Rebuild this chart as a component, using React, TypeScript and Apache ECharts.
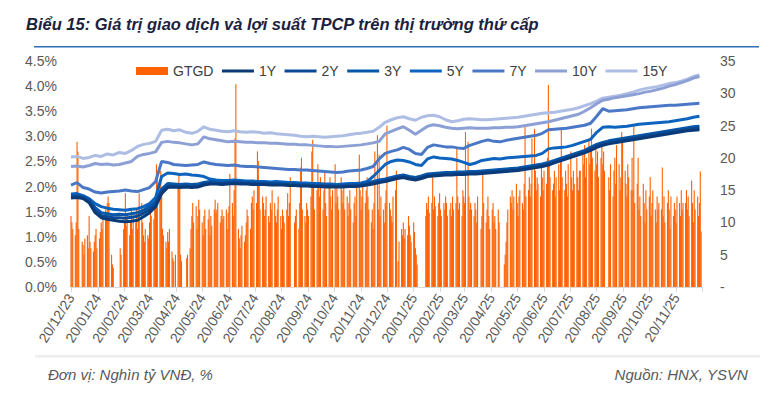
import React, { useEffect, useRef } from "react";
import * as echarts from "echarts";

// ---- Trading value GTGD (nghìn tỷ VNĐ), one row per month, one value per trading day ----
const gtgdMonths = [
  "2023-12", "2024-01", "2024-02", "2024-03", "2024-04", "2024-05", "2024-06", "2024-07",
  "2024-08", "2024-09", "2024-10", "2024-11", "2024-12", "2025-01", "2025-02", "2025-03",
  "2025-04", "2025-05", "2025-06", "2025-07", "2025-08", "2025-09", "2025-10", "2025-11", "2025-12",
];
const gtgdByMonth: number[][] = [
  [11, 10, 9, 8, 10, 22.5, 21, 9],
  [7, 6.5, 5, 7.5, 8, 6, 11, 7, 6, 5.5, 7, 8, 9, 6, 7.5, 8.5, 10, 9, 11, 12, 10.5, 13],
  [14, 13, 5, 3.5, 3, 6, 5, 9, 10, 14.5, 9.5, 11, 8, 10, 12, 9],
  [11, 10, 12, 9, 11, 14.5, 13, 10, 8, 7, 9, 8, 7.5, 10, 12, 11, 10.5, 12, 13, 19, 17],
  [16, 18, 14.5, 9, 8, 7, 6, 8.5, 7, 9, 5.5, 4.5, 4, 5, 15.5, 17.5, 16, 5, 4],
  [4.5, 5, 6, 9, 11, 13, 10, 12.5, 9, 11, 13.5, 12, 10, 8, 11, 12, 9, 10.5, 12, 8, 11, 9.5],
  [12, 13.5, 11.5, 12, 13, 10, 11, 12, 10.5, 11, 12, 9, 11.5, 12.5, 17.5, 13, 11, 15, 23, 31.4],
  [9, 7.5, 6, 8, 9.5, 7, 8, 10, 12, 11, 9, 13, 14, 12, 15, 13, 21, 19.5, 16, 12, 14, 13, 11],
  [12, 14, 11, 10, 13, 12, 15, 13, 11, 10, 12, 14, 11, 9, 12, 11, 10, 12, 14.5, 11, 13, 17],
  [10, 11, 12, 9, 13, 18.5, 20, 12, 11, 10, 13, 12, 11, 14, 21, 22.8, 16, 12, 15],
  [19, 16, 14, 17, 12, 15, 18, 13, 11, 16, 17, 14, 12, 15, 19, 13, 16, 14, 12, 17, 15, 13, 16],
  [12, 14, 11, 13, 15, 12, 10, 13, 14, 11, 16, 20.5, 15, 12, 14, 16, 13, 15, 17, 14, 12],
  [10, 12, 9, 13, 21, 23.5, 12, 20.5, 11, 14, 12, 10, 13, 15, 25, 13, 12, 11, 10, 14, 15, 18],
  [4, 7, 9, 8, 10, 7.5, 9, 8, 11, 9.5, 8, 7, 10, 8.5, 6, 5, 3.5],
  [11, 13, 12, 14, 11.5, 13, 17, 12, 14, 12.5, 11, 13, 14.5, 12, 11, 13, 12, 14, 13, 11],
  [12, 13, 11, 14, 12, 13, 21.5, 14, 12, 13, 11, 15, 14, 13, 24, 22.5, 14, 12, 13, 12, 11],
  [13, 12, 10, 14, 9, 11, 18, 13, 10, 12, 14, 11, 9, 12, 13, 10, 11, 9, 12, 10],
  [3.5, 5, 7, 10, 12, 14, 13, 15, 12, 14, 16, 13, 11, 14, 15, 13, 12, 16, 24.8, 14],
  [15, 17, 14, 16, 23, 24.5, 18, 15, 17, 16, 14, 19, 17, 15, 18, 16, 20, 31.3, 19, 17, 15],
  [16, 18, 14, 17, 19, 15, 20, 24.5, 17, 15, 18, 16, 14, 19, 21, 17, 15, 18, 16, 20, 17, 15, 18],
  [18, 21, 19, 22, 17, 20, 23, 19, 21, 24.5, 20, 18, 22, 19, 21, 17, 20, 22, 19, 21, 18],
  [17, 15, 19, 14, 18, 20, 16, 22, 19, 15, 17, 24, 23, 18, 16, 14, 19, 17, 15, 20],
  [15, 25, 13, 16, 20, 12, 14, 11, 16, 13, 10, 15, 12, 14, 17, 11, 13, 15, 12, 10, 14, 12, 13],
  [12, 18.5, 11, 14, 10, 13, 15, 12, 9, 14, 11, 13, 12, 10, 14, 13, 11, 15, 12, 13],
  [13, 15, 12, 14, 11, 16.5, 13, 10, 15, 12, 14, 11, 13, 17.9, 8.6],
];
const holidays = [
  "2024-01-01", "2024-02-08", "2024-02-09", "2024-02-12", "2024-02-13", "2024-02-14",
  "2024-04-18", "2024-04-29", "2024-04-30", "2024-05-01", "2024-09-02", "2024-09-03",
  "2025-01-01", "2025-01-27", "2025-01-28", "2025-01-29", "2025-01-30", "2025-01-31",
  "2025-04-07", "2025-04-30", "2025-05-01", "2025-05-02", "2025-09-01", "2025-09-02",
];

// ---- Yields (%), weekly (every Wednesday from 20/12/2023) ----
const y1Y = [
  1.77, 1.78, 1.76, 1.68, 1.48, 1.38, 1.35, 1.33, 1.31, 1.30,
  1.31, 1.33, 1.40, 1.48, 1.60, 1.86, 1.98, 1.99, 1.98, 1.99,
  1.98, 1.99, 2.03, 2.05, 2.05, 2.04, 2.05, 2.06, 2.05, 2.05,
  2.04, 2.04, 2.04, 2.03, 2.03, 2.03, 2.02, 2.02, 2.01, 2.01,
  2.00, 2.00, 1.99, 1.99, 1.99, 1.99, 2.00, 2.00, 2.01, 2.03,
  2.05, 2.08, 2.10, 2.13, 2.16, 2.18, 2.15, 2.13, 2.16, 2.20,
  2.21, 2.22, 2.23, 2.23, 2.24, 2.24, 2.25, 2.25, 2.26, 2.27,
  2.28, 2.29, 2.30, 2.31, 2.32, 2.34, 2.36, 2.38, 2.40, 2.43,
  2.47, 2.51, 2.55, 2.59, 2.63, 2.67, 2.72, 2.78, 2.82, 2.85,
  2.87, 2.89, 2.91, 2.93, 2.95, 2.97, 2.99, 3.01, 3.03, 3.05,
  3.07, 3.09, 3.11, 3.12, 3.13,
];
const y2Y = [
  1.79, 1.80, 1.78, 1.71, 1.52, 1.42, 1.40, 1.38, 1.38, 1.37,
  1.39, 1.41, 1.47, 1.54, 1.65, 1.90, 2.01, 2.01, 2.00, 2.01,
  2.00, 2.01, 2.05, 2.07, 2.06, 2.06, 2.07, 2.08, 2.07, 2.06,
  2.06, 2.06, 2.06, 2.05, 2.05, 2.04, 2.04, 2.03, 2.03, 2.02,
  2.02, 2.01, 2.01, 2.01, 2.00, 2.01, 2.01, 2.02, 2.03, 2.05,
  2.07, 2.10, 2.12, 2.15, 2.18, 2.20, 2.17, 2.15, 2.18, 2.22,
  2.23, 2.24, 2.25, 2.25, 2.26, 2.26, 2.27, 2.27, 2.28, 2.29,
  2.30, 2.31, 2.32, 2.33, 2.34, 2.36, 2.38, 2.40, 2.42, 2.45,
  2.49, 2.53, 2.57, 2.61, 2.65, 2.69, 2.75, 2.81, 2.85, 2.88,
  2.90, 2.92, 2.94, 2.96, 2.98, 3.00, 3.02, 3.04, 3.06, 3.08,
  3.10, 3.12, 3.14, 3.15, 3.16,
];
const y3Y = [
  1.82, 1.83, 1.80, 1.74, 1.58, 1.48, 1.46, 1.44, 1.45, 1.44,
  1.46, 1.48, 1.53, 1.60, 1.70, 1.95, 2.06, 2.05, 2.04, 2.05,
  2.04, 2.05, 2.08, 2.10, 2.09, 2.08, 2.09, 2.10, 2.09, 2.08,
  2.08, 2.07, 2.08, 2.07, 2.06, 2.06, 2.05, 2.05, 2.04, 2.04,
  2.03, 2.03, 2.03, 2.02, 2.02, 2.03, 2.03, 2.04, 2.05, 2.07,
  2.10, 2.13, 2.15, 2.18, 2.21, 2.23, 2.20, 2.18, 2.21, 2.25,
  2.26, 2.27, 2.28, 2.28, 2.29, 2.29, 2.30, 2.30, 2.31, 2.32,
  2.33, 2.34, 2.35, 2.36, 2.37, 2.39, 2.41, 2.43, 2.45, 2.48,
  2.52, 2.56, 2.60, 2.64, 2.68, 2.72, 2.78, 2.84, 2.88, 2.91,
  2.93, 2.95, 2.97, 2.99, 3.01, 3.03, 3.05, 3.07, 3.09, 3.11,
  3.13, 3.15, 3.17, 3.19, 3.20,
];
const y5Y = [
  1.85, 1.86, 1.82, 1.76, 1.66, 1.60, 1.57, 1.55, 1.54, 1.53,
  1.55, 1.56, 1.60, 1.66, 1.78, 2.20, 2.27, 2.26, 2.24, 2.25,
  2.23, 2.22, 2.20, 2.15, 2.13, 2.12, 2.12, 2.13, 2.12, 2.11,
  2.11, 2.10, 2.10, 2.09, 2.10, 2.09, 2.08, 2.08, 2.07, 2.07,
  2.06, 2.06, 2.05, 2.05, 2.04, 2.05, 2.06, 2.06, 2.07, 2.10,
  2.20, 2.32, 2.44, 2.50, 2.53, 2.52, 2.49, 2.44, 2.42, 2.55,
  2.59, 2.57, 2.56, 2.55, 2.52, 2.48, 2.44, 2.47, 2.52, 2.54,
  2.56, 2.55, 2.57, 2.58, 2.59, 2.60, 2.61, 2.62, 2.66, 2.75,
  2.77, 2.78, 2.79, 2.82, 2.86, 2.90, 2.94, 3.08, 3.18, 3.19,
  3.18, 3.19, 3.20, 3.22, 3.24, 3.25, 3.26, 3.27, 3.28, 3.29,
  3.31, 3.33, 3.35, 3.38, 3.40,
];
const y7Y = [
  2.03, 2.08, 1.98, 1.95, 1.89, 1.87, 1.89, 1.90, 1.91, 1.93,
  1.91, 1.90, 1.94, 1.98, 2.10, 2.50, 2.48, 2.44, 2.43, 2.42,
  2.43, 2.44, 2.49, 2.46, 2.44, 2.43, 2.42, 2.43, 2.41, 2.40,
  2.40, 2.39, 2.38, 2.37, 2.36, 2.35, 2.34, 2.34, 2.33, 2.33,
  2.32, 2.31, 2.30, 2.29, 2.28, 2.29, 2.31, 2.32, 2.33, 2.36,
  2.40, 2.55, 2.66, 2.70, 2.73, 2.78, 2.74, 2.66, 2.64, 2.78,
  2.83, 2.81, 2.79, 2.79, 2.77, 2.76, 2.82, 2.86, 2.90, 2.93,
  2.90, 2.89, 2.92, 2.94, 2.96, 2.98, 3.00, 3.02, 3.06, 3.13,
  3.14, 3.15, 3.16, 3.18, 3.20, 3.22, 3.26, 3.40, 3.55, 3.50,
  3.51, 3.52, 3.53, 3.55, 3.57, 3.58, 3.59, 3.60, 3.61, 3.62,
  3.62, 3.63, 3.64, 3.65, 3.66,
];
const y10Y = [
  2.40, 2.41, 2.39, 2.42, 2.46, 2.44, 2.45, 2.43, 2.44, 2.47,
  2.50, 2.60, 2.64, 2.66, 2.69, 2.88, 2.90, 2.88, 2.87, 2.85,
  2.83, 2.85, 2.99, 2.95, 2.93, 2.91, 2.89, 2.90, 2.89, 2.88,
  2.88, 2.87, 2.87, 2.86, 2.86, 2.85, 2.84, 2.84, 2.83, 2.83,
  2.82, 2.81, 2.80, 2.80, 2.79, 2.80, 2.81, 2.82, 2.83, 2.85,
  2.87, 2.90, 3.05, 3.10, 3.15, 3.19, 3.12, 3.04, 3.12, 3.20,
  3.23, 3.21, 3.18, 3.16, 3.15, 3.16, 3.17, 3.16, 3.16, 3.16,
  3.17, 3.17, 3.18, 3.18, 3.19, 3.21, 3.23, 3.25, 3.27, 3.29,
  3.32, 3.35, 3.38, 3.41, 3.44, 3.50, 3.57, 3.65, 3.72, 3.74,
  3.77, 3.79, 3.81, 3.83, 3.85, 3.88, 3.90, 3.93, 3.96, 4.00,
  4.03, 4.07, 4.11, 4.16, 4.19,
];
const y15Y = [
  2.59, 2.60, 2.56, 2.58, 2.62, 2.60, 2.65, 2.63, 2.68, 2.66,
  2.72, 2.80, 2.84, 2.86, 2.90, 3.12, 3.14, 3.11, 3.13, 3.08,
  3.06, 3.10, 3.19, 3.14, 3.12, 3.10, 3.09, 3.11, 3.09, 3.08,
  3.09, 3.08, 3.06, 3.07, 3.05, 3.04, 3.03, 3.02, 3.00, 2.99,
  3.00, 2.99, 2.98, 2.99, 3.00, 3.01, 3.03, 3.05, 3.06, 3.08,
  3.10, 3.18, 3.28, 3.33, 3.37, 3.39, 3.35, 3.32, 3.38, 3.41,
  3.42, 3.39, 3.33, 3.29, 3.31, 3.34, 3.35, 3.34, 3.33, 3.33,
  3.34, 3.35, 3.36, 3.37, 3.38, 3.40, 3.42, 3.44, 3.46, 3.47,
  3.48, 3.50, 3.52, 3.54, 3.57, 3.61, 3.65, 3.70, 3.76, 3.78,
  3.80, 3.82, 3.85, 3.88, 3.92, 3.95, 3.97, 3.99, 4.02, 4.05,
  4.07, 4.10, 4.14, 4.19, 4.22,
];

const seriesNames = ["1Y", "2Y", "3Y", "5Y", "7Y", "10Y", "15Y"];
const seriesValues = [y1Y, y2Y, y3Y, y5Y, y7Y, y10Y, y15Y];
const seriesColors = ["#0b3a78", "#0a4a95", "#0757aa", "#0c64bf", "#4a78c7", "#8ca0d5", "#aebde3"];

const leftTicks = { min: 0, max: 4.5, interval: 0.5 };
const rightTicks = { min: 0, max: 35, interval: 5 };

function iso(t: number) {
  const d = new Date(t);
  const m = String(d.getUTCMonth() + 1).padStart(2, "0");
  const dd = String(d.getUTCDate()).padStart(2, "0");
  return `${d.getUTCFullYear()}-${m}-${dd}`;
}

function buildData() {
  const days: string[] = [];
  const start = Date.UTC(2023, 11, 20);
  const end = Date.UTC(2025, 11, 20);
  for (let t = start; t <= end; t += 86400000) days.push(iso(t));
  const hol = new Set(holidays);
  const counters: Record<string, number> = {};
  const bars: (number | null)[] = days.map((d) => {
    const wd = new Date(d + "T00:00:00Z").getUTCDay();
    if (wd === 0 || wd === 6 || hol.has(d)) return null;
    const mk = d.slice(0, 7);
    const mi = gtgdMonths.indexOf(mk);
    if (mi < 0) return null;
    const k = counters[mk] || 0;
    counters[mk] = k + 1;
    const v = gtgdByMonth[mi][k];
    return v === undefined ? null : v;
  });
  const lines = seriesValues.map((vals) => {
    const arr: (number | null)[] = days.map(() => null);
    vals.forEach((v, i) => {
      if (7 * i < arr.length) arr[7 * i] = v;
    });
    return arr;
  });
  return { days, bars, lines };
}

export default function App() {
  const ref = useRef<HTMLDivElement>(null);
  useEffect(() => {
    if (!ref.current) return;
    const chart = echarts.init(ref.current, undefined, { renderer: "svg" });
    const { days, bars, lines } = buildData();
    const lastIdx = days.length - 1;
    const isTickDay = (_i: number, v: string) => v.slice(8, 10) === "20";
    const isLabelDay = (i: number, v: string) => i !== lastIdx && v.slice(8, 10) === "20";
    const font = '"Liberation Sans", Arial, sans-serif';
    const lineIcon = "path://M0,0H32V3H0Z";
    chart.setOption({
      animation: false,
      textStyle: { fontFamily: font },
      grid: { left: 71, right: 71, top: 61, bottom: 110, containLabel: false },
      legend: {
        left: 131,
        top: 59,
        itemWidth: 32,
        itemHeight: 8,
        itemGap: 8.5,
        textStyle: { fontSize: 14, color: "#404040", fontFamily: font },
        data: [
          { name: "GTGD", icon: "rect" },
          ...seriesNames.map((n) => ({ name: n, icon: lineIcon })),
        ],
      },
      xAxis: {
        type: "category",
        data: days,
        boundaryGap: false,
        axisLine: { show: true, lineStyle: { color: "#d9d9d9", width: 1 } },
        axisTick: { show: true, interval: isTickDay, length: 5, lineStyle: { color: "#d9d9d9" } },
        axisLabel: {
          interval: isLabelDay,
          rotate: 58,
          margin: 8,
          fontSize: 14,
          color: "#595959",
          fontFamily: font,
          formatter: (v: string) => `${v.slice(8, 10)}/${v.slice(5, 7)}/${v.slice(2, 4)}`,
        },
        splitLine: { show: false },
      },
      yAxis: [
        {
          type: "value",
          ...leftTicks,
          axisLine: { show: false },
          axisTick: { show: false },
          splitLine: { show: false },
          axisLabel: {
            fontSize: 14,
            color: "#595959",
            margin: 14,
            fontFamily: font,
            formatter: (v: number) => v.toFixed(1) + "%",
          },
        },
        {
          type: "value",
          ...rightTicks,
          position: "right",
          axisLine: { show: false },
          axisTick: { show: false },
          splitLine: { show: false },
          axisLabel: {
            fontSize: 14,
            color: "#595959",
            margin: 18,
            fontFamily: font,
            formatter: (v: number) => (v === 0 ? "-" : String(v)),
          },
        },
      ],
      series: [
        {
          name: "GTGD",
          type: "bar",
          yAxisIndex: 1,
          data: bars,
          barWidth: 1.1,
          itemStyle: { color: "#ff6000" },
          z: 1,
        },
        ...seriesNames.map((n, i) => ({
          name: n,
          type: "line",
          yAxisIndex: 0,
          data: lines[i],
          connectNulls: true,
          symbol: "none",
          showSymbol: false,
          smooth: false,
          lineStyle: { width: 3, color: seriesColors[i] },
          itemStyle: { color: seriesColors[i] },
          z: 3 + (6 - i),
        })),
      ],
      graphic: [
        {
          type: "text",
          left: 26,
          top: 15,
          style: {
            text: "Biểu 15: Giá trị giao dịch và lợi suất TPCP trên thị trường thứ cấp",
            font: `italic bold 16.5px ${font}`,
            fill: "#1b2240",
          },
        },
        {
          type: "rect",
          left: 34,
          top: 46,
          shape: { x: 0, y: 0, width: 725, height: 1.5 },
          style: { fill: "#2f6db5" },
        },
        {
          type: "rect",
          left: 35,
          top: 355,
          shape: { x: 0, y: 0, width: 725, height: 2.5 },
          style: { fill: "#ededed" },
        },
        {
          type: "text",
          left: 48,
          top: 367,
          style: { text: "Đơn vị: Nghìn tỷ VNĐ, %", font: `italic 15px ${font}`, fill: "#595959" },
        },
        {
          type: "text",
          right: 25,
          top: 367,
          style: { text: "Nguồn: HNX, YSVN", font: `italic 15px ${font}`, fill: "#595959" },
        },
      ],
    });
    return () => chart.dispose();
  }, []);
  return (
    <div
      ref={ref}
      style={{ position: "fixed", left: 0, top: 0, width: 773, height: 397, background: "#fff" }}
    />
  );
}
